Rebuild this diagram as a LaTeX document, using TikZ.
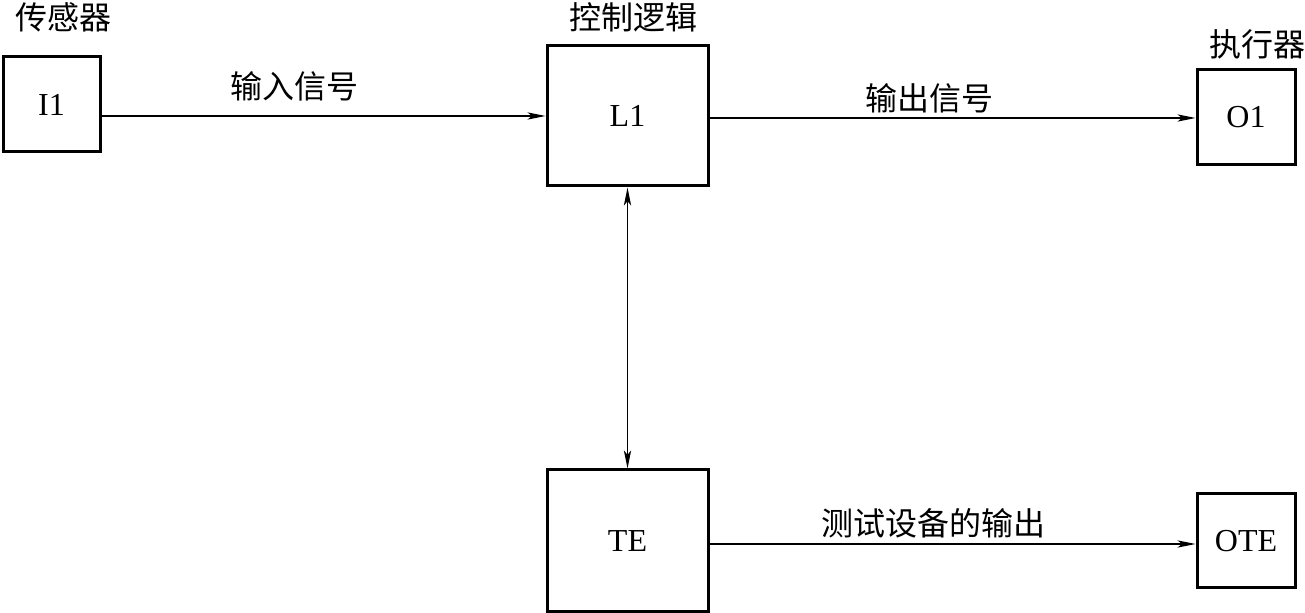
\documentclass[tikz,border=0pt]{standalone}
\usepackage{fontspec}
\setmainfont{Liberation Serif}
\newfontfamily\cjk{Noto Sans CJK SC}
\usetikzlibrary{arrows.meta}
\tikzset{
  blk/.style={draw, line width=1.5pt, inner sep=0pt, font=\fontsize{16}{18}\selectfont},
  lbl/.style={inner sep=0pt, font=\cjk\fontsize{16}{18}\selectfont},
  conn/.style={line width=0.6pt, -{Stealth[length=9pt,width=3.6pt,inset=2.2pt]}},
}
\begin{document}
\begin{tikzpicture}[x=0.5pt,y=-0.5pt]
\useasboundingbox (0,0) rectangle (1305,613);
\node[blk, minimum width=48.5pt, minimum height=47.5pt] (I1) at (51.5,104.5) {I1};
\node[blk, minimum width=80.5pt, minimum height=70pt] (L1) at (627.5,116) {L1};
\node[blk, minimum width=49pt, minimum height=47.5pt] (O1) at (1246,117.5) {O1};
\node[blk, minimum width=80.5pt, minimum height=71pt] (TE) at (627.5,541) {TE};
\node[blk, minimum width=49pt, minimum height=47pt] (OTE) at (1246,541) {OTE};
\node[lbl] (t1) at (63,17) {传感器};
\node[lbl] (t2) at (633,17) {控制逻辑};
\node[lbl] (t3) at (1257,44) {执行器};
\node[lbl] (t4) at (294,86) {输入信号};
\node[lbl] (t5) at (929,98) {输出信号};
\node[lbl] (t6) at (933,523) {测试设备的输出};
\draw[conn] (I1.east |- L1.west) -- (L1.west);
\draw[conn] (L1.east) ++(0,2) coordinate (a) -- (a -| O1.west);
\draw[conn, {Stealth[length=9pt,width=3.6pt,inset=2.2pt]}-{Stealth[length=9pt,width=3.6pt,inset=2.2pt]}] (L1.south) -- (TE.north);
\draw[conn] (TE.east) ++(0,3) coordinate (b) -- (b -| OTE.west);
\end{tikzpicture}
\end{document}
